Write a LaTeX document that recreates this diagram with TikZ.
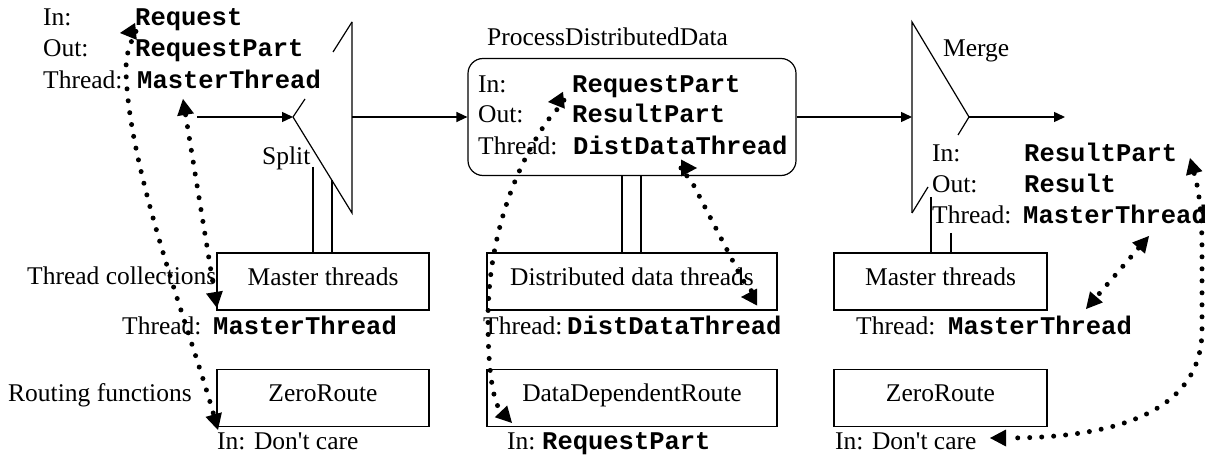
\documentclass[tikz,border=0pt]{standalone}
\usepackage{fontspec}
\setmainfont{Liberation Serif}
\setmonofont{Liberation Mono}
\usetikzlibrary{arrows.meta}
\begin{document}
\begin{tikzpicture}[x=1pt, y=-1pt,
  font=\fontsize{25.5}{30}\selectfont,
  lbl/.style={anchor=base west, inner sep=0pt},
  code/.style={lbl, font=\fontsize{25.5}{30}\selectfont\ttfamily\bfseries},
  box/.style={draw, line width=1.2pt, inner sep=0pt, text height=17pt, text depth=10pt, minimum height=57pt},
  edge/.style={line width=1.2pt},
  flow/.style={line width=1.4pt, -{Triangle[length=11pt,width=10pt]}},
  dotlink/.style={line width=5pt, line cap=round, dash pattern=on 0pt off 12pt,
    {Triangle[length=16pt,width=17pt,line width=0pt]}-{Triangle[length=16pt,width=17pt,line width=0pt]}}
]
\useasboundingbox (0,0) rectangle (1213,457);

% ---------- Split ----------
\coordinate (sT) at (352,22);
\coordinate (sB) at (352,213);
\coordinate (sA) at (293,117);
\coordinate (sR) at (352,117);
\coordinate (src) at (197,117);
\draw[edge] (sT) -- (sB) -- (sA) -- (305,99);
\draw[edge] (sT) -- (333,52);
\node[lbl] (splitlbl) at (262,165) {Split};

% ---------- ProcessDistributedData ----------
\node[draw, line width=1.2pt, rounded corners=15pt, minimum width=328pt, minimum height=117pt, inner sep=0pt] (pdd) at (632,117) {};
\node[lbl] (pddtitle) at (487,46) {ProcessDistributedData};
\node[lbl] at (478,93) {In:};
\node[code] (pddin) at (572,93) {RequestPart};
\node[lbl] at (478,123) {Out:};
\node[code] at (572,123) {ResultPart};
\node[lbl] (pddthr) at (478,155) {Thread:};
\node[code] (pddthread) at (573,155) {DistDataThread};

% ---------- Merge ----------
\coordinate (mT) at (912,22);
\coordinate (mB) at (912,213);
\coordinate (mL) at (912,117);
\coordinate (mA) at (969,117);
\coordinate (sink) at (1065,117);
\draw[edge] (mB) -- (mT) -- (mA) -- (958,135);
\draw[edge] (928,187) -- (mB);
\node[lbl] (mergelbl) at (943,57) {Merge};
\node[lbl] at (932,162) {In:};
\node[code] (mergein) at (1024,162) {ResultPart};
\node[lbl] at (932,193) {Out:};
\node[code] at (1024,193) {Result};
\node[lbl] at (932,224) {Thread:};
\node[code] (mergethread) at (1023,224) {MasterThread};

% ---------- Split labels ----------
\node[lbl] at (43,26) {In:};
\node[code] (splitin) at (135,26) {Request};
\node[lbl] at (43,57) {Out:};
\node[code] at (135,57) {RequestPart};
\node[lbl] at (43,89) {Thread:};
\node[code] (splitthread) at (137,89) {MasterThread};

% ---------- main flow ----------
\draw[flow] (src) -- (sA);
\draw[flow] (sR) -- (pdd.west);
\draw[flow] (pdd.east) -- (mL);
\draw[flow] (mA) -- (sink);

% ---------- thread collections ----------
\node[lbl] at (27,284) {Thread collections};
\node[box, minimum width=212pt] (mt1) at (323,281.5) {Master threads};
\node[box, minimum width=290pt] (ddt) at (632,281.5) {Distributed data threads};
\node[box, minimum width=213pt] (mt2) at (940.5,281.5) {Master threads};

\draw[edge] (313,167) -- (313,0 |- mt1.north);
\draw[edge] (332,180) -- (332,0 |- mt1.north);
\draw[edge] (622,0 |- pdd.south) -- (622,0 |- ddt.north);
\draw[edge] (641,0 |- pdd.south) -- (641,0 |- ddt.north);
\draw[edge] (931,197) -- (931,0 |- mt2.north);
\draw[edge] (951,233) -- (951,0 |- mt2.north);

\node[lbl] at (122,334) {Thread:};
\node[code] (mt1thread) at (213,334) {MasterThread};
\node[lbl] (ddtthr) at (483,334) {Thread:};
\node[code] at (567,334) {DistDataThread};
\node[lbl] at (856,334) {Thread:};
\node[code] (mt2thread) at (948,334) {MasterThread};

% ---------- routing functions ----------
\node[lbl] at (8,401) {Routing functions};
\node[box, minimum width=212pt] (zr1) at (323,398) {ZeroRoute};
\node[box, minimum width=290pt] (ddr) at (632,398) {DataDependentRoute};
\node[box, minimum width=213pt] (zr2) at (940.5,398) {ZeroRoute};

\node[lbl] (zr1in) at (217,449) {In: Don\textquotesingle t care};
\node[lbl] at (507,449) {In:};
\node[code] (ddrin) at (542,449) {RequestPart};
\node[lbl] (zr2in) at (835,449) {In: Don\textquotesingle t care};

% ---------- correspondences ----------
\coordinate (a1s) at (120,33);
\coordinate (a1e) at (218,430);
\draw[dotlink] (a1s) .. controls (140,31) and (126,40) .. (126,70)
  .. controls (128,170) and (190,330) .. (a1e);

\coordinate (a2s) at (183,99);
\coordinate (a2e) at (217,308);
\draw[dotlink] (a2s) -- (a2e);

\coordinate (a3s) at (548,102);
\coordinate (a3e) at (512,423);
\draw[dotlink] (a3s) .. controls (566,100) and (558,108) .. (548,120)
  .. controls (520,160) and (488,230) .. (488,320)
  .. controls (488,380) and (495,405) .. (a3e);

\coordinate (a4s) at (697,168);
\coordinate (a4e) at (741,297);
\draw[dotlink] (a4s) .. controls (676,168) and (684,170) .. (693,184)
  -- (739,273) .. controls (750,295) and (762,297) .. (a4e);

\coordinate (a5s) at (1149,236);
\coordinate (a5e) at (1086,309);
\draw[dotlink] (a5s) -- (a5e);

\coordinate (a6s) at (1190,158);
\coordinate (a6e) at (990,438);
\draw[dotlink] (a6s) .. controls (1196,180) and (1202,200) .. (1202,250)
  -- (1202,330) .. controls (1202,425) and (1085,438) .. (a6e);
\end{tikzpicture}
\end{document}
